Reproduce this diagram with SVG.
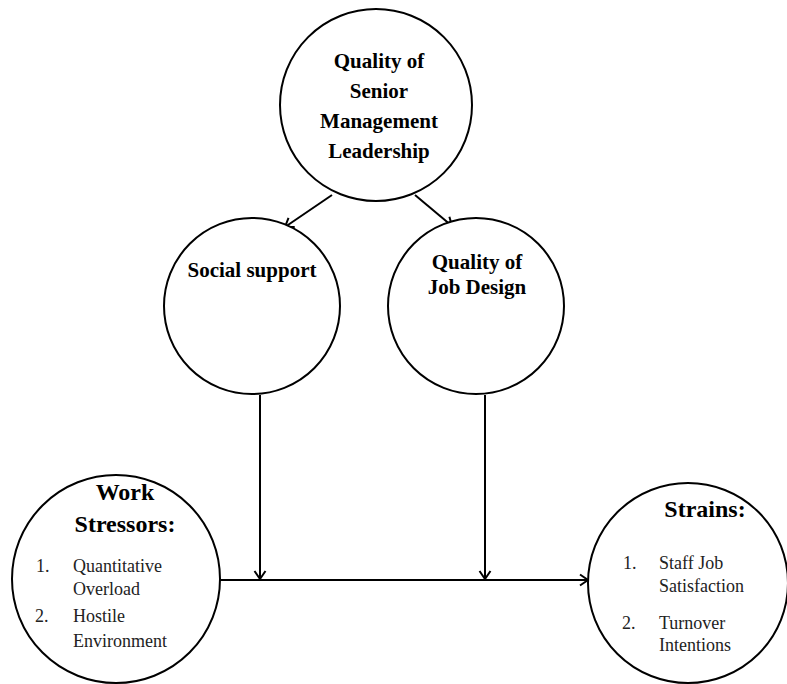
<svg xmlns="http://www.w3.org/2000/svg" width="787" height="684" viewBox="0 0 787 684">
<defs>
<marker id="arr" markerWidth="14" markerHeight="14" refX="11" refY="7" orient="auto" markerUnits="userSpaceOnUse">
<path d="M3,1.5 L11,7 L3,12.5" fill="none" stroke="#000" stroke-width="2"/>
</marker>
<style>
.node{fill:#fff;stroke:#000;stroke-width:2}
.b{font-family:"Liberation Serif",serif;font-weight:bold;font-size:21px;fill:#000;text-anchor:middle}
.h{font-family:"Liberation Serif",serif;font-weight:bold;font-size:24px;fill:#000;text-anchor:middle}
.r{font-family:"Liberation Serif",serif;font-size:18px;fill:#222}
.c{fill:none;stroke:#000;stroke-width:2}
</style>
</defs>
<rect width="787" height="684" fill="#fff"/>
<g id="connectors">
<line class="c" x1="332" y1="195" x2="285" y2="227" marker-end="url(#arr)"/>
<line class="c" x1="415" y1="195" x2="452" y2="226" marker-end="url(#arr)"/>
<line class="c" x1="260" y1="395" x2="260" y2="579" marker-end="url(#arr)"/>
<line class="c" x1="485" y1="395" x2="485" y2="579" marker-end="url(#arr)"/>
<line class="c" x1="220" y1="580" x2="588" y2="580" marker-end="url(#arr)"/>
</g>
<g id="leadership">
<circle class="node" cx="376" cy="105" r="96"/>
<text class="b" x="379" y="68">Quality of</text>
<text class="b" x="379" y="98">Senior</text>
<text class="b" x="379" y="128">Management</text>
<text class="b" x="379" y="158">Leadership</text>
</g>
<g id="social">
<circle class="node" cx="252" cy="306" r="88"/>
<text class="b" x="252" y="277">Social support</text>
</g>
<g id="jobdesign">
<circle class="node" cx="476" cy="306" r="88"/>
<text class="b" x="477" y="269">Quality of</text>
<text class="b" x="477" y="294">Job Design</text>
</g>
<g id="stressors">
<circle class="node" cx="116" cy="579" r="104"/>
<text class="h" x="125" y="500">Work</text>
<text class="h" x="125" y="532">Stressors:</text>
<text class="r" x="36" y="572">1.</text>
<text class="r" x="73" y="572">Quantitative</text>
<text class="r" x="73" y="595">Overload</text>
<text class="r" x="35" y="622">2.</text>
<text class="r" x="73" y="622">Hostile</text>
<text class="r" x="73" y="647">Environment</text>
</g>
<g id="strains">
<circle class="node" cx="688" cy="583" r="100"/>
<text class="h" x="705" y="517">Strains:</text>
<text class="r" x="623" y="569">1.</text>
<text class="r" x="659" y="569">Staff Job</text>
<text class="r" x="659" y="592">Satisfaction</text>
<text class="r" x="622" y="629">2.</text>
<text class="r" x="659" y="629">Turnover</text>
<text class="r" x="659" y="651">Intentions</text>
</g>
</svg>
